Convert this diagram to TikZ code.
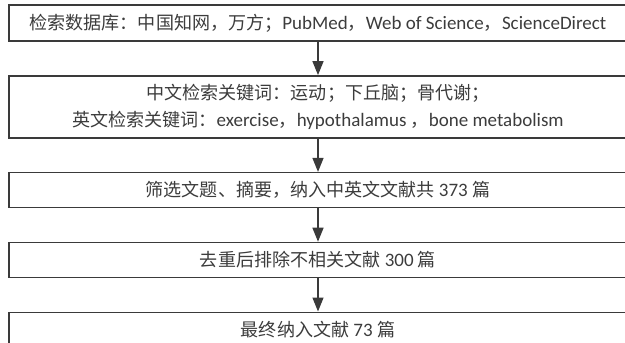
\documentclass[tikz,border=0pt]{standalone}
\usepackage{fontspec}
\setmainfont{Carlito}
\newfontfamily\cjk[Scale=0.95]{Noto Sans CJK SC}
\newcommand{\zh}[1]{{\cjk #1}}
\usetikzlibrary{arrows.meta,positioning}
\definecolor{linegray}{HTML}{3A3A3A}
\definecolor{textgray}{HTML}{3C3C3C}

\begin{document}
\begin{tikzpicture}[
  x=1pt, y=-1pt,
  font=\fontsize{19}{27}\selectfont,
  node distance=33.4pt,
  box/.style={draw=linegray, line width=1.4pt, text=textgray, align=center, minimum width=618pt, minimum height=35pt, inner sep=2pt},
  arrow/.style={-{Triangle[length=14pt, width=11pt]}, line width=1.4pt, draw=linegray, fill=linegray}
]
\useasboundingbox (0,0) rectangle (625,343);
\clip (0,0) rectangle (625,343);

\node[box, minimum height=36pt] (db) at (318,23) {\zh{检索数据库：中国知网，万方；}PubMed\zh{，}Web of Science\zh{，}ScienceDirect};
\node[box, minimum height=62pt, below=of db] (kw) {\zh{中文检索关键词：运动；下丘脑；骨代谢；}\\\zh{英文检索关键词：}exercise\zh{，}hypothalamus \zh{，}bone metabolism};
\node[box, below=of kw] (screen) {\zh{筛选文题、摘要，纳入中英文文献共} 373 \zh{篇}};
\node[box, below=of screen] (dedup) {\zh{去重后排除不相关文献} 300 \zh{篇}};
\node[box, below=of dedup] (final) {\zh{最终纳入文献} 73 \zh{篇}};

\draw[arrow] (db) -- (kw);
\draw[arrow] (kw) -- (screen);
\draw[arrow] (screen) -- (dedup);
\draw[arrow] (dedup) -- (final);

\end{tikzpicture}
\end{document}
